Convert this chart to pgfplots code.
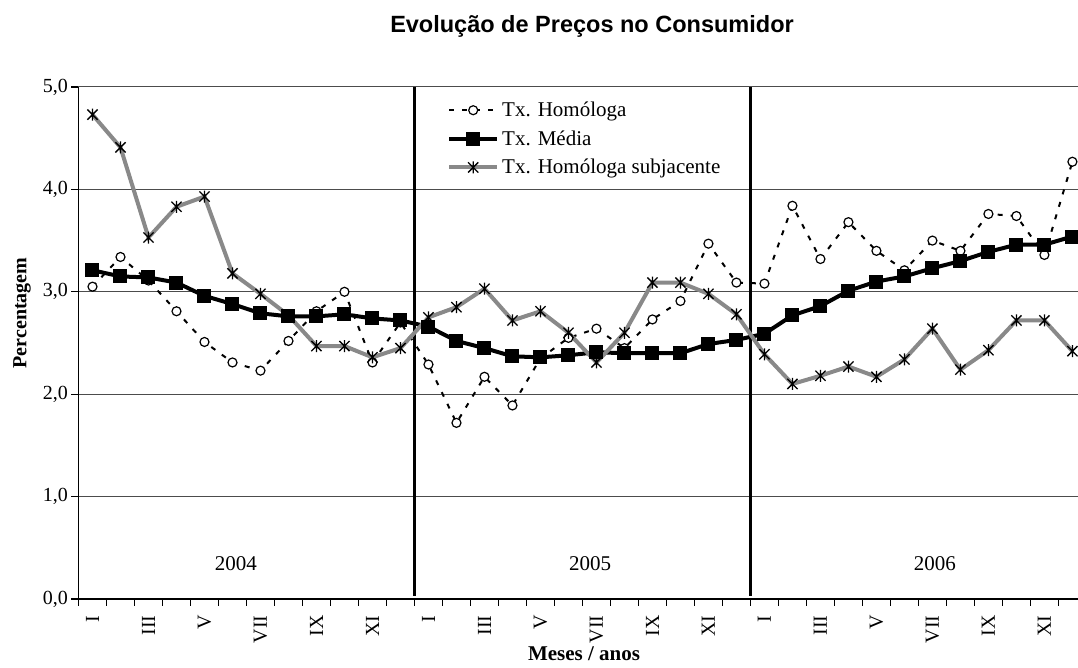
\documentclass[border=0pt]{standalone}
\usepackage{pgfplots}
\usepackage{pgfplotstable}
\pgfplotsset{compat=1.18}
\usepackage{fontspec}
\setmainfont{Liberation Serif}
\newfontfamily\arialfont{Liberation Sans}
\definecolor{subgray}{RGB}{137,137,137}
\newcommand\lstrut{\rule[-5pt]{0pt}{19pt}}
\pgfdeclareplotmark{xstar}{%
 \pgfpathmoveto{\pgfqpoint{0pt}{\pgfplotmarksize}}\pgfpathlineto{\pgfqpoint{0pt}{-\pgfplotmarksize}}%
 \pgfpathmoveto{\pgfqpoint{-.85\pgfplotmarksize}{.85\pgfplotmarksize}}\pgfpathlineto{\pgfqpoint{.85\pgfplotmarksize}{-.85\pgfplotmarksize}}%
 \pgfpathmoveto{\pgfqpoint{-.85\pgfplotmarksize}{-.85\pgfplotmarksize}}\pgfpathlineto{\pgfqpoint{.85\pgfplotmarksize}{.85\pgfplotmarksize}}%
 \pgfusepathqstroke}
\pgfplotstableread{
x    hom   med   sub
0.5  3.05  3.21  4.73
1.5  3.34  3.15  4.41
2.5  3.11  3.14  3.53
3.5  2.81  3.09  3.83
4.5  2.51  2.96  3.93
5.5  2.31  2.88  3.18
6.5  2.23  2.79  2.98
7.5  2.52  2.76  2.77
8.5  2.81  2.76  2.47
9.5  3.00  2.78  2.47
10.5 2.31  2.74  2.36
11.5 2.70  2.72  2.45
12.5 2.29  2.66  2.75
13.5 1.72  2.52  2.85
14.5 2.17  2.45  3.03
15.5 1.89  2.37  2.72
16.5 2.35  2.36  2.81
17.5 2.55  2.38  2.60
18.5 2.64  2.41  2.31
19.5 2.45  2.40  2.60
20.5 2.73  2.40  3.09
21.5 2.91  2.40  3.09
22.5 3.47  2.49  2.98
23.5 3.09  2.53  2.78
24.5 3.08  2.59  2.39
25.5 3.84  2.77  2.10
26.5 3.32  2.86  2.18
27.5 3.68  3.01  2.27
28.5 3.40  3.10  2.17
29.5 3.21  3.15  2.34
30.5 3.50  3.23  2.64
31.5 3.40  3.30  2.24
32.5 3.76  3.39  2.43
33.5 3.74  3.46  2.72
34.5 3.36  3.46  2.72
35.5 4.27  3.54  2.42
}\data
\begin{document}
\begin{tikzpicture}
\begin{axis}[
  scale only axis, width=999.5pt, height=512pt,
  xmin=0, xmax=35.7, ymin=0, ymax=5,
  clip=false,
  axis lines=left, axis line style={-, line width=1.2pt, black},
  tick align=outside, major tick length=7pt,
  tick style={black, line width=1.2pt},
  xtick={0,...,35}, x tick label as interval,
  xticklabels={I,,III,,V,,VII,,IX,,XI,,I,,III,,V,,VII,,IX,,XI,,I,,III,,V,,VII,,IX,,XI,,},
  xticklabel style={rotate=90, anchor=east, font=\fontsize{20}{24}\selectfont},
  xticklabel shift=6pt,
  ytick={0,1,2,3,4,5},
  yticklabel style={font=\fontsize{20}{24}\selectfont, /pgf/number format/.cd, use comma, fixed, fixed zerofill, precision=1, assume math mode=true},
  ymajorgrids, major grid style={gray!60!black, line width=1pt},
  legend image code/.code={\draw[mark repeat=2,mark phase=2,#1] plot coordinates {(0pt,0pt) (24pt,0pt) (48pt,0pt)};},
  legend cell align=left,
  legend style={at={(0.3687,0.9727)}, anchor=north west, draw=none, fill=none, inner sep=0pt,
    font=\fontsize{21}{25}\selectfont, row sep=10.5pt, column sep=2pt, nodes={inner sep=1pt}},
]
\draw[line width=3.5pt, black] (axis cs:12,0.03) -- (axis cs:12,5);
\draw[line width=3.5pt, black] (axis cs:24,0.03) -- (axis cs:24,5);
\addplot[black, line width=2pt, dash pattern=on 5pt off 8pt, mark=*, mark size=4.5pt,
  mark options={solid, fill=white, draw=black, line width=1.2pt}] table[x=x, y=hom] {\data};
\addlegendentry{\lstrut Tx. Homóloga}
\addplot[black, line width=4pt, mark=square*, mark size=5pt, mark options={solid}] table[x=x, y=med] {\data};
\addlegendentry{\lstrut Tx. Média}
\addplot[subgray, line width=4pt, mark=xstar, mark size=6pt, mark options={solid, black, line width=1.3pt}] table[x=x, y=sub] {\data};
\addlegendentry{\lstrut Tx. Homóloga subjacente}
\node[anchor=base, font=\fontsize{21}{25}\selectfont] at (axis cs:5.625,0.278) {2004};
\node[anchor=base, font=\fontsize{21}{25}\selectfont] at (axis cs:18.27,0.278) {2005};
\node[anchor=base, font=\fontsize{21}{25}\selectfont] at (axis cs:30.59,0.278) {2006};
\end{axis}
\path (current axis.south west) ++(513.5pt,566pt) node[anchor=base, font=\arialfont\bfseries\fontsize{23.5}{28}\selectfont] {Evolução de Preços no Consumidor};
\path (current axis.south west) ++(-56.5pt,286pt) node[rotate=90, anchor=center, font=\bfseries\fontsize{20}{24}\selectfont] {Percentagem};
\path (current axis.south west) ++(505.5pt,-62pt) node[anchor=base, font=\bfseries\fontsize{21}{25}\selectfont] {Meses / anos};
\path (current axis.south west) ++(-78.5pt,-69pt) coordinate (bbsw);
\pgfresetboundingbox
\path (bbsw) rectangle ++(1078pt,668pt);
\end{tikzpicture}
\end{document}
